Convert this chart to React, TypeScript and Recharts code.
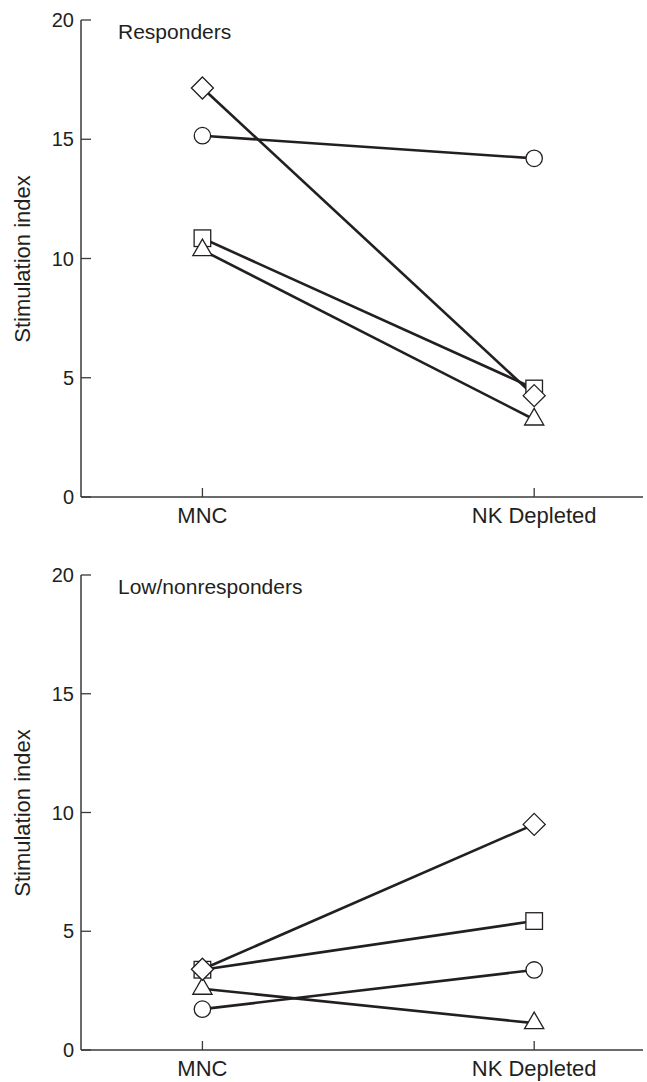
import React from 'react';
import { LineChart, Line, XAxis, YAxis } from 'recharts';

const categories = ['MNC', 'NK Depleted'];
const categoryPositions = [1, 2];
const yTicks = [0, 5, 10, 15, 20];
const yAxisTitle = 'Stimulation index';

const respondersTitle = 'Responders';
const respondersCircle = [15.15, 14.2];
const respondersSquare = [10.85, 4.55];
const respondersTriangle = [10.35, 3.25];
const respondersDiamond = [17.15, 4.25];

const lowTitle = 'Low/nonresponders';
const lowCircle = [1.72, 3.37];
const lowSquare = [3.38, 5.43];
const lowTriangle = [2.58, 1.13];
const lowDiamond = [3.4, 9.5];

const INK = '#231f20';
const AXIS = '#3a3a3a';
const FONT = '"Liberation Sans", Arial, Helvetica, sans-serif';

const buildRows = (circle: number[], square: number[], triangle: number[], diamond: number[]) =>
  categoryPositions.map((x, i) => ({ x, circle: circle[i], square: square[i], triangle: triangle[i], diamond: diamond[i] }));

const respondersRows = buildRows(respondersCircle, respondersSquare, respondersTriangle, respondersDiamond);
const lowRows = buildRows(lowCircle, lowSquare, lowTriangle, lowDiamond);

const Marker = ({ shape, cx, cy }: { shape: string; cx: number; cy: number }) => {
  if (cx == null || cy == null) return null;
  const common = { fill: '#fff', stroke: INK, strokeWidth: 1.3 };
  if (shape === 'circle') return <circle cx={cx} cy={cy} r={8.2} {...common} />;
  if (shape === 'square') return <rect x={cx - 8.3} y={cy - 8.3} width={16.6} height={16.6} {...common} />;
  if (shape === 'diamond') {
    const r = 11;
    return <polygon points={`${cx},${cy - r} ${cx + r},${cy} ${cx},${cy + r} ${cx - r},${cy}`} {...common} />;
  }
  const h = 16.6;
  const w = 9.6;
  return <polygon points={`${cx},${cy - (2 * h) / 3} ${cx + w},${cy + h / 3} ${cx - w},${cy + h / 3}`} {...common} />;
};

const makeDot = (shape: string) => (p: any) => <Marker key={`${shape}-${p.index}`} shape={shape} cx={p.cx} cy={p.cy} />;

const YTick = (props: any) => {
  const { x, y, payload } = props;
  return (
    <g>
      <line x1={x} x2={x + 10} y1={y} y2={y} stroke={AXIS} strokeWidth={1.3} />
      <text x={x - 7} y={y} dy="0.36em" textAnchor="end" fontSize={20} fontFamily={FONT} fill={INK}>
        {payload.value}
      </text>
    </g>
  );
};

const XTick = (props: any) => {
  const { x, y, payload } = props;
  const idx = categoryPositions.indexOf(payload.value);
  return (
    <g>
      <line x1={x} x2={x} y1={y - 9} y2={y} stroke={AXIS} strokeWidth={1.3} />
      <text x={x} y={y + 26} textAnchor="middle" fontSize={22} fontFamily={FONT} fill={INK}>
        {categories[idx]}
      </text>
    </g>
  );
};

const SERIES = ['circle', 'square', 'triangle', 'diamond'];

const Panel = ({ rows, title, top, marginTop, marginBottom }: any) => {
  const height = 541;
  const plotTop = marginTop;
  const plotBottom = height - marginBottom;
  return (
    <div style={{ position: 'absolute', left: 0, top, width: 647, height }}>
      <LineChart width={647} height={height} data={rows} margin={{ top: marginTop, right: 4, bottom: marginBottom, left: 1 }}>
        <XAxis
          dataKey="x"
          type="number"
          domain={[0.634, 2.328]}
          ticks={categoryPositions}
          allowDataOverflow
          tickSize={0}
          tickMargin={0}
          tickLine={false}
          tick={<XTick />}
          axisLine={{ stroke: AXIS, strokeWidth: 1.5 }}
          height={1}
        />
        <YAxis
          type="number"
          domain={[0, 20]}
          ticks={yTicks}
          width={80}
          tickSize={0}
          tickMargin={0}
          tickLine={false}
          tick={<YTick />}
          axisLine={{ stroke: AXIS, strokeWidth: 1.5 }}
          interval={0}
        />
        {SERIES.map((s) => (
          <Line
            key={s}
            type="linear"
            dataKey={s}
            stroke={INK}
            strokeWidth={2.6}
            dot={makeDot(s)}
            activeDot={false}
            isAnimationActive={false}
          />
        ))}
      </LineChart>
      <div
        style={{
          position: 'absolute',
          left: 118,
          top: plotTop + 1,
          fontFamily: FONT,
          fontSize: 21,
          color: INK,
          lineHeight: '22px',
          whiteSpace: 'nowrap',
        }}
      >
        {title}
      </div>
      <div
        style={{
          position: 'absolute',
          left: 23,
          top: (plotTop + plotBottom) / 2,
          transform: 'translate(-50%, -50%) rotate(-90deg)',
          fontFamily: FONT,
          fontSize: 22,
          color: INK,
          whiteSpace: 'nowrap',
          lineHeight: '24px',
        }}
      >
        {yAxisTitle}
      </div>
    </div>
  );
};

export default function App() {
  return (
    <div style={{ position: 'absolute', left: 0, top: 0, width: 647, height: 1082, background: '#fff' }}>
      <Panel rows={respondersRows} title={respondersTitle} top={0} marginTop={20} marginBottom={43} />
      <Panel rows={lowRows} title={lowTitle} top={541} marginTop={34} marginBottom={31} />
    </div>
  );
}
